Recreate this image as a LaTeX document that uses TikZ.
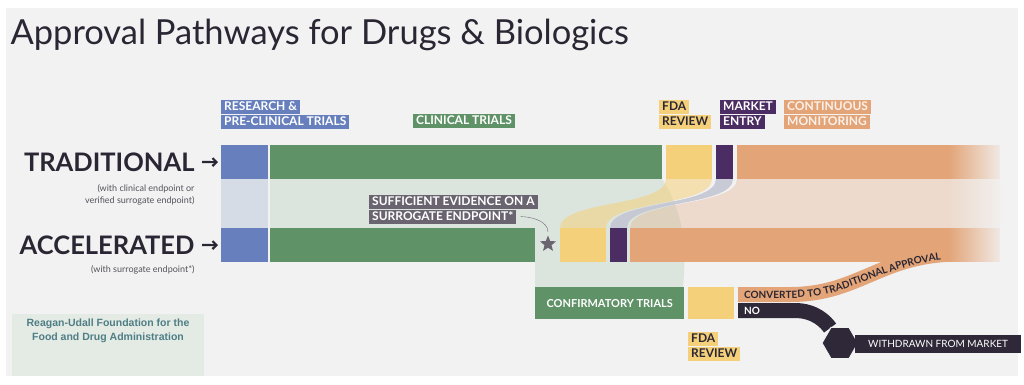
\documentclass[tikz,border=0pt]{standalone}
\usepackage{fontspec}
\setmainfont{Lato}
\setsansfont{Lato}
\newfontfamily\rufont{Liberation Sans}
\usetikzlibrary{arrows.meta,positioning,shapes.geometric,fadings,decorations.text}

\definecolor{bgC}{HTML}{F2F2F2}
\definecolor{inkC}{HTML}{2A2633}
\definecolor{blueC}{HTML}{6780BD}
\definecolor{greenC}{HTML}{5F9367}
\definecolor{yellowC}{HTML}{F5D07A}
\definecolor{purpleC}{HTML}{4B2D63}
\definecolor{orangeC}{HTML}{E3A477}
\definecolor{lbC}{HTML}{D6DCE6}
\definecolor{lgC}{HTML}{DCE5DD}
\definecolor{flowC}{HTML}{C4C6D4}
\definecolor{greyC}{HTML}{6A6470}
\definecolor{darkC}{HTML}{2E2838}
\definecolor{tealC}{HTML}{4E7E86}
\definecolor{ruC}{HTML}{E4EAE4}
\definecolor{subC}{HTML}{55525A}

\tikzfading[name=fadeout, left color=transparent!100, right color=transparent!0]

\begin{document}
\begin{tikzpicture}[x=1pt,y=-1pt,
    bar/.style={anchor=north west,inner sep=0pt,minimum height=34pt},
    tag/.style={anchor=north west,inner xsep=3pt,inner ysep=1.5pt,text height=9pt,text depth=2pt,
      font=\bfseries\fontsize{12}{13}\selectfont},
    path/.style={anchor=east,text=inkC,font=\bfseries\fontsize{25.5}{27}\selectfont},
    sub/.style={anchor=north east,align=right,text=subC,font=\fontsize{9}{12}\selectfont},
    arr/.style={-{Straight Barb[length=4pt,width=8pt]},line width=2.2pt,inkC,shorten >=3pt}]

% canvas
\fill[white] (0,0) rectangle (1024,384);
\fill[bgC] (6,8) rectangle (1018,376);
\useasboundingbox (0,0) rectangle (1024,384);

\node[anchor=base west,text=inkC,font=\fontsize{34.5}{40}\selectfont] (title) at (7,44)
  {Approval Pathways for Drugs \& Biologics};

% flows between the two rows
\fill[lbC] (221,179) rectangle (268,228);
\fill[lgC] (270,179) -- (662,179) .. controls (686,215) and (686,255) .. (683,287)
  -- (535,287) -- (535,228) -- (270,228) -- cycle;
\fill[orangeC,opacity=0.3] (630,228) .. controls (630,200) and (737,207) .. (737,179)
  -- (1000,179) -- (1000,228) -- cycle;
\foreach \x/\w/\c/\o in {560/46/yellowC/0.55, 610/17/flowC/0.9}
  \fill[\c,opacity=\o] (\x,228) .. controls (\x,200) and (\x+106,207) .. (\x+106,179)
    -- (\x+106+\w,179) .. controls (\x+106+\w,207) and (\x+\w,200) .. (\x+\w,228) -- cycle;

% after confirmatory trials
\coordinate (cstart) at (738,294.5);
\coordinate (nstart) at (738,310.5);
\draw[orangeC,line width=15pt] (cstart) -- (790,294.5)
  .. controls (860,294.5) and (880,254) .. (960,254);

% the two rows
\foreach \n/\x/\w/\c in {blue/221/47/blueC, green/270/392/greenC, yellow/666/46/yellowC,
    purple/716/17/purpleC, orange/737/263/orangeC}
  \node[bar,fill=\c,minimum width=\w] (t\n) at (\x,145) {};
\foreach \n/\x/\w/\c in {blue/221/47/blueC, green/270/265/greenC, yellow/560/46/yellowC,
    purple/610/17/purpleC, orange/630/370/orangeC}
  \node[bar,fill=\c,minimum width=\w] (a\n) at (\x,228) {};
\node[star,star points=5,star point ratio=2.3,fill=greyC,inner sep=0pt,minimum size=17pt]
  (star) at (548,244) {};

\node[bar,fill=greenC,minimum width=149,minimum height=32,text=white,
  font=\bfseries\fontsize{11}{12}\selectfont] (confirm) at (535,287) {CONFIRMATORY TRIALS};
\node[bar,fill=yellowC,minimum width=46,minimum height=32] (review) at (688,287) {};

\path[postaction={decorate,decoration={text along path,raise=-3.6pt,
    text align={left indent=6pt},
    text={|\bfseries\fontsize{10}{10}\selectfont\color{inkC}|CONVERTED TO TRADITIONAL APPROVAL}}}]
  (cstart) -- (790,294.5) .. controls (860,294.5) and (880,254) .. (980,254);

% withdrawn branch
\node[regular polygon,regular polygon sides=6,fill=darkC,draw=bgC,line width=1pt,
  minimum size=36pt,inner sep=0pt] (hex) at (840,343) {};
\draw[darkC,line width=15pt] (nstart) -- (795,310.5) .. controls (815,310.5) and (826,322) .. (hex);
\node[regular polygon,regular polygon sides=6,fill=darkC,draw=bgC,line width=1pt,
  minimum size=36pt,inner sep=0pt] at (hex) {};
\node[anchor=west,fill=darkC,text=white,minimum height=18pt,minimum width=158pt,align=left,
  inner xsep=13pt,font=\fontsize{10}{11}\selectfont] (withdrawn) at (855,344) {WITHDRAWN FROM MARKET\hfill};
\node[anchor=west,text=white,inner sep=0pt,font=\bfseries\fontsize{10}{11}\selectfont] (no)
  at ([xshift=6pt]nstart) {NO};

% fade of the monitoring bands
\fill[bgC,path fading=fadeout] (948,140) rectangle (1006,266);

% row labels
\node[path] (trad) at (198,162) {TRADITIONAL};
\node[sub] (tradsub) at (198,181) {(with clinical endpoint or\\verified surrogate endpoint)};
\node[path] (acc) at (198,245) {ACCELERATED};
\node[sub] (accsub) at (198,262) {(with surrogate endpoint*)};
\draw[arr] ([xshift=4pt]trad.east) -- (tblue.west);
\draw[arr] ([xshift=4pt]acc.east) -- (ablue.west);

% stage tags
\node[tag,fill=blueC,text=white] (res1) at (221,100) {RESEARCH \&};
\node[tag,fill=blueC,text=white,below right=0pt and 0pt of res1.south west] (res2) {PRE-CLINICAL TRIALS};
\node[tag,fill=greenC,text=white] (clin) at (413,114) {CLINICAL TRIALS};
\node[tag,fill=yellowC,text=inkC] (fda1) at (659,100) {FDA};
\node[tag,fill=yellowC,text=inkC,below right=0pt and 0pt of fda1.south west] (fda2) {REVIEW};
\node[tag,fill=purpleC,text=white] (mkt1) at (720,100) {MARKET};
\node[tag,fill=purpleC,text=white,below right=0pt and 0pt of mkt1.south west] (mkt2) {ENTRY};
\node[tag,fill=orangeC,text=white!85!orangeC] (mon1) at (784,100) {CONTINUOUS};
\node[tag,fill=orangeC,text=white!85!orangeC,below right=0pt and 0pt of mon1.south west] (mon2) {MONITORING};
\node[tag,fill=greyC,text=white] (evid1) at (369,195) {SUFFICIENT EVIDENCE ON A};
\node[tag,fill=greyC,text=white,below right=0pt and 0pt of evid1.south west] (evid2) {SURROGATE ENDPOINT*};
\draw[greyC,thin,shorten <=4pt,shorten >=3pt] (evid2.east) to[out=0,in=90] (star.north);
\node[tag,fill=yellowC,text=inkC] (fdb1) at (688,332) {FDA};
\node[tag,fill=yellowC,text=inkC,below right=0pt and 0pt of fdb1.south west] (fdb2) {REVIEW};

% credit
\fill[ruC] (12,314) rectangle (204,376);
\node[text=tealC,align=center,font=\rufont\bfseries\fontsize{10.5}{14}\selectfont] (credit)
  at (108,331) {Reagan-Udall Foundation for the\\Food and Drug Administration};
\end{tikzpicture}
\end{document}
